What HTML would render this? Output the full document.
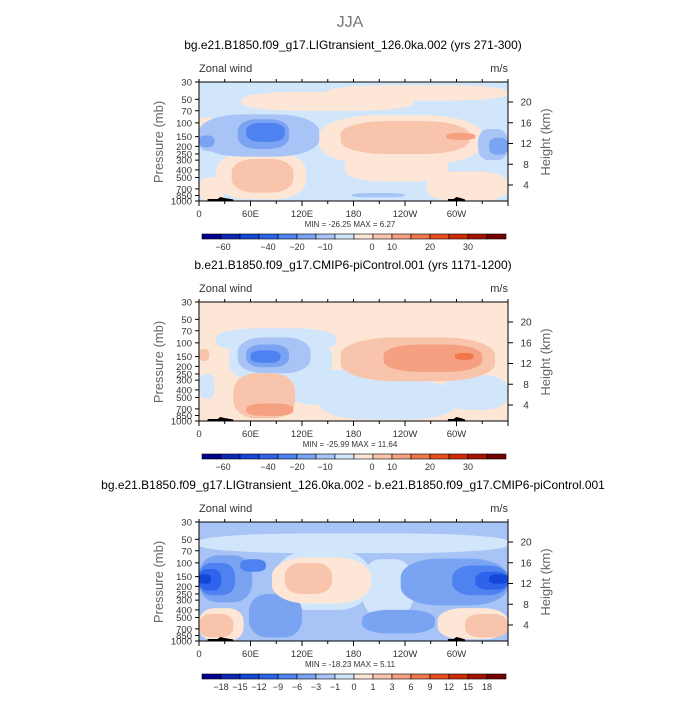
<!DOCTYPE html>
<html><head><meta charset="utf-8"><style>
body{margin:0;background:#fff;}
svg text{font-family:"Liberation Sans",sans-serif;}
</style></head><body>
<svg id="chart" width="700" height="700" xmlns="http://www.w3.org/2000/svg">
<text x="350" y="27" font-size="16" fill="#777" text-anchor="middle">JJA</text>
</svg>
<script>
const palette = ["#00008c","#0a28b4","#1446d8","#2e64ec","#4e82f0","#7aa4f2","#a8c4f6","#d2e6fb","#fee6d6","#f8c4ac","#f5a080","#f07848","#e84e1e","#d02a00","#a41400","#740000"];
const pTicks = [30,50,70,100,150,200,250,300,400,500,700,850,1000];
const hTicks = [20,16,12,8,4];
const lonTicks = [0,60,120,180,240,300];
const lonLabels = ["0","60E","120E","180","120W","60W"];
const titles = ["bg.e21.B1850.f09_g17.LIGtransient_126.0ka.002 (yrs 271-300)",
 "b.e21.B1850.f09_g17.CMIP6-piControl.001 (yrs 1171-1200)",
 "bg.e21.B1850.f09_g17.LIGtransient_126.0ka.002 - b.e21.B1850.f09_g17.CMIP6-piControl.001"];
const minmax = ["MIN = -26.25   MAX =    6.27","MIN = -25.99   MAX =  11.64","MIN = -18.23   MAX =    5.11"];
const background = [7, 8, 6];
// blobs: [lon0, lon1, p0, p1, level]
const blobs1 = [
 [50,250,40,70,8],[150,360,33,52,8],[0,18,85,125,8],
 [140,330,80,340,8],[165,315,95,250,9],[288,322,135,165,10],
 [170,290,250,560,8],[265,360,420,1000,8],
 [20,125,240,950,8],[38,110,290,780,9],[0,30,500,1000,8],
 [0,140,78,270,6],[45,105,90,215,5],[55,100,100,175,4],
 [0,30,125,230,6],[0,18,145,205,5],
 [325,360,120,300,6],[338,360,155,255,5],
 [178,240,790,900,6]];
const blobs2 = [
 [20,160,65,130,7],[35,155,85,320,7],[0,18,250,520,7],
 [100,200,220,620,7],[140,300,300,960,7],[285,360,260,720,7],
 [45,130,85,245,6],[55,105,105,205,5],[60,95,125,180,4],
 [165,345,85,310,9],[215,330,105,235,10],[298,320,135,165,11],
 [40,112,245,920,9],[55,110,600,860,10],[0,12,120,170,9]];
const blobs3 = [
 [0,360,42,75,7],[90,200,70,400,7],[190,250,90,500,7],
 [0,62,80,320,5],[58,120,250,900,5],[235,360,88,350,5],[190,275,400,800,5],
 [0,42,100,260,4],[48,78,90,130,4],[295,360,108,260,4],
 [0,26,120,225,3],[322,360,130,220,3],[0,14,140,185,2],[338,360,140,185,2],
 [85,200,85,330,8],[100,155,100,250,9],
 [0,52,380,1000,8],[0,40,450,900,9],[278,360,380,950,8],[310,360,450,900,9]];
const topoLon = [[10,40],[290,310]];
const cb1Labels = ["-60","-40","-20","-10","0","10","20","30"];
const cb1Pos = [223,268,297,325,372,392,430,468];
const cb3Labels = ["-18","-15","-12","-9","-6","-3","-1","0","1","3","6","9","12","15","18"];

const svg = document.getElementById('chart');
const NS = "http://www.w3.org/2000/svg";
function mk(tag, attrs, parent){const e=document.createElementNS(NS,tag);for(const k in attrs)e.setAttribute(k,attrs[k]);(parent||svg).appendChild(e);return e;}
const X0=199, X1=508;
function xOf(lon){return X0+(X1-X0)*lon/360;}
function yOf(p,top){return top+119*Math.log10(p/30)/Math.log10(1000/30);}
function hY(h,top){return top + (20-h)/16*(185-102) + 20;}

const allBlobs=[blobs1,blobs2,blobs3];
for(let i=0;i<3;i++){
  const top=82+220*i;
  const g=mk('g',{});
  
  
  const t=mk('text',{x:353,y:top-33,'font-size':12,'text-anchor':'middle',fill:'#000'},g);
  t.textContent=titles[i];
  
  
  const zw=mk('text',{x:X0,y:top-10,'font-size':11,fill:'#333'},g);zw.textContent='Zonal wind';
  
  
  const ms=mk('text',{x:X1,y:top-10,'font-size':11,fill:'#333','text-anchor':'end'},g);ms.textContent='m/s';
  
  
  const cid='clip'+i;
  const cp=mk('clipPath',{id:cid},g);mk('rect',{x:X0,y:top,width:X1-X0,height:119},cp);
  const plot=mk('g',{'clip-path':'url(#'+cid+')'},g);
  const bgr=mk('rect',{x:X0,y:top,width:X1-X0,height:119,fill:palette[background[i]]},plot);
  
  
  for(const b of allBlobs[i]){
    const x0=xOf(b[0]),x1=xOf(b[1]),y0=yOf(b[2],top),y1=yOf(b[3],top);
    const w=x1-x0,h=y1-y0;
    const e=mk('rect',{x:x0,y:y0,width:w,height:h,rx:w*0.35,ry:h*0.4,fill:palette[b[4]]},plot);
    
    
  }
  for(const tl of topoLon){
    const x0=xOf(tl[0]),x1=xOf(tl[1]);
    const r=mk('path',{d:`M${x0},${top+119} L${x0},${top+117} L${(x0+x1)/2-3},${top+117} L${(x0+x1)/2},${top+115} L${(x0+x1)/2+4},${top+116} L${x1},${top+117.5} L${x1},${top+119}Z`,fill:'#000'},plot);
    
    
  }
  const fr=mk('rect',{x:X0,y:top,width:X1-X0,height:119,fill:'none',stroke:'#000','stroke-width':1},g);
  
  
  for(const p of pTicks){
    const y=yOf(p,top);
    mk('line',{x1:X0-4,x2:X0,y1:y,y2:y,stroke:'#000'},g);
    const tx=mk('text',{x:X0-7,y:y+3.5,'font-size':9.5,'text-anchor':'end',fill:'#333'},g);tx.textContent=p;
    
    
  }
  for(const h of hTicks){
    const y=hY(h,top);
    mk('line',{x1:X1,x2:X1+5,y1:y,y2:y,stroke:'#000'},g);
    const tx=mk('text',{x:X1+18,y:y+3.5,'font-size':10,'text-anchor':'middle',fill:'#333'},g);tx.textContent=h;
    
    
  }
  for(let l=0;l<=360;l+=30){
    mk('line',{x1:xOf(l),x2:xOf(l),y1:top,y2:top-3,stroke:'#000'},g);
    mk('line',{x1:xOf(l),x2:xOf(l),y1:top+119,y2:top+119+(l%60==0?5:3),stroke:'#000'},g);
  }
  lonTicks.forEach((l,k)=>{
    const tx=mk('text',{x:xOf(l),y:top+135,'font-size':9.5,'text-anchor':'middle',fill:'#333'},g);tx.textContent=lonLabels[k];
    
    
  });
  const yl=mk('text',{x:0,y:0,'font-size':13,'text-anchor':'middle',fill:'#666',transform:`translate(163,${top+60}) rotate(-90)`},g);yl.textContent='Pressure (mb)';
  
  
  const yr=mk('text',{x:0,y:0,'font-size':13,'text-anchor':'middle',fill:'#666',transform:`translate(550,${top+60}) rotate(-90)`},g);yr.textContent='Height (km)';
  
  
  const mm=mk('text',{x:350,y:top+145,'font-size':8,'text-anchor':'middle',fill:'#333','xml:space':'preserve'},g);mm.textContent=minmax[i];
  
  
  const cbg=mk('g',{},g);
  
  
  const cx0=202,cw=19,cy=top+152;
  palette.forEach((c,k)=>{mk('rect',{x:cx0+k*cw,y:cy,width:cw,height:5,fill:c,stroke:'#000','stroke-width':0.6},cbg);});
  if(i<2){
    cb1Labels.forEach((lb,k)=>{const tx=mk('text',{x:cb1Pos[k],y:cy+16,'font-size':9,'text-anchor':'middle',fill:'#333'},cbg);tx.textContent=lb.replace('-','\u2212');
      
      });
  } else {
    cb3Labels.forEach((lb,k)=>{const tx=mk('text',{x:cx0+(k+1)*cw,y:cy+16,'font-size':9,'text-anchor':'middle',fill:'#333'},cbg);tx.textContent=lb.replace('-','\u2212');
      
      });
  }
}
</script>
</body></html>
